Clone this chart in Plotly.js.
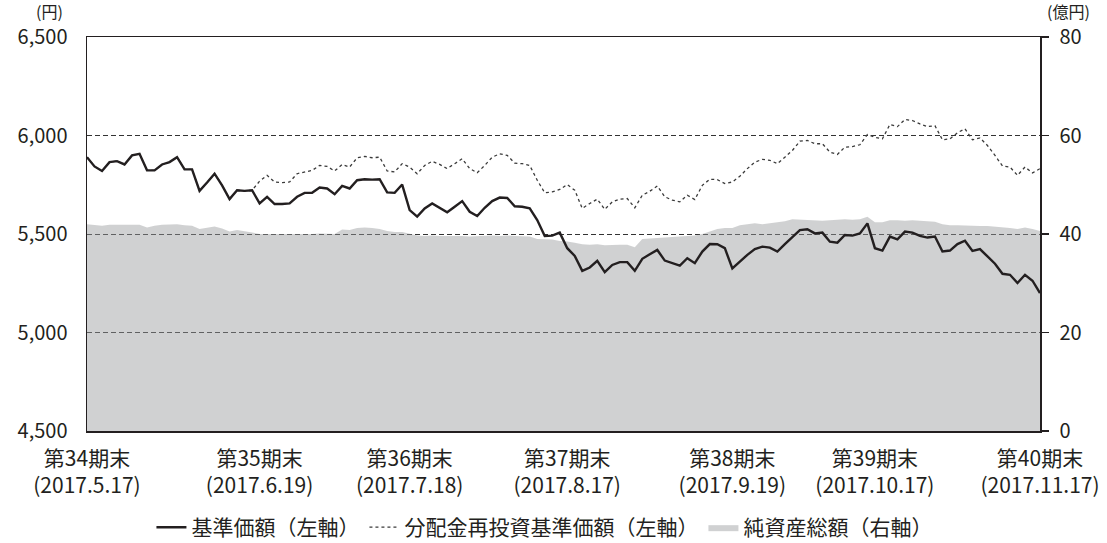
<!DOCTYPE html>
<html>
<head>
<meta charset="utf-8">
<script src="https://cdn.plot.ly/plotly-3.0.1.min.js"></script>
<style>html,body{margin:0;padding:0;background:#fff;}#chart{width:1107px;height:543px;}</style>
</head>
<body>
<div id="chart"></div>
<script>
// Business days (x categories)
const dates = [
 '2017-05-17','2017-05-18','2017-05-19','2017-05-22','2017-05-23','2017-05-24','2017-05-25','2017-05-26','2017-05-29','2017-05-30','2017-05-31',
 '2017-06-01','2017-06-02','2017-06-05','2017-06-06','2017-06-07','2017-06-08','2017-06-09','2017-06-12','2017-06-13','2017-06-14','2017-06-15','2017-06-16','2017-06-19','2017-06-20','2017-06-21','2017-06-22','2017-06-23','2017-06-26','2017-06-27','2017-06-28','2017-06-29','2017-06-30',
 '2017-07-03','2017-07-04','2017-07-05','2017-07-06','2017-07-07','2017-07-10','2017-07-11','2017-07-12','2017-07-13','2017-07-14','2017-07-18','2017-07-19','2017-07-20','2017-07-21','2017-07-24','2017-07-25','2017-07-26','2017-07-27','2017-07-28','2017-07-31',
 '2017-08-01','2017-08-02','2017-08-03','2017-08-04','2017-08-07','2017-08-08','2017-08-09','2017-08-10','2017-08-14','2017-08-15','2017-08-16','2017-08-17','2017-08-18','2017-08-21','2017-08-22','2017-08-23','2017-08-24','2017-08-25','2017-08-28','2017-08-29','2017-08-30','2017-08-31',
 '2017-09-01','2017-09-04','2017-09-05','2017-09-06','2017-09-07','2017-09-08','2017-09-11','2017-09-12','2017-09-13','2017-09-14','2017-09-15','2017-09-19','2017-09-20','2017-09-21','2017-09-22','2017-09-25','2017-09-26','2017-09-27','2017-09-28','2017-09-29',
 '2017-10-02','2017-10-03','2017-10-04','2017-10-05','2017-10-06','2017-10-10','2017-10-11','2017-10-12','2017-10-13','2017-10-16','2017-10-17','2017-10-18','2017-10-19','2017-10-20','2017-10-23','2017-10-24','2017-10-25','2017-10-26','2017-10-27','2017-10-30','2017-10-31',
 '2017-11-01','2017-11-02','2017-11-06','2017-11-07','2017-11-08','2017-11-09','2017-11-10','2017-11-13','2017-11-14','2017-11-15','2017-11-16','2017-11-17'
];

// 基準価額 (円)
const nav = [
 5890,5843,5820,5865,5870,5853,5899,5907,5823,5823,
 5853,5865,5890,5828,5828,5719,5761,5806,5747,5677,
 5722,5719,5722,5655,5689,5652,5652,5655,5689,5709,
 5709,5736,5731,5702,5744,5731,5773,5778,5776,5778,
 5711,5709,5751,5621,5588,5630,5655,5633,5610,5638,
 5667,5613,5591,5633,5667,5685,5683,5641,5638,5630,
 5571,5490,5492,5507,5428,5389,5313,5330,5364,5306,
 5343,5357,5357,5313,5374,5397,5419,5365,5352,5340,
 5377,5352,5411,5449,5448,5428,5325,5360,5394,5423,
 5436,5431,5411,5449,5483,5520,5524,5503,5507,5461,
 5456,5495,5492,5503,5554,5428,5416,5487,5473,5512,
 5507,5490,5482,5487,5411,5416,5449,5466,5414,5423,
 5386,5349,5298,5293,5251,5293,5263,5200
];

// 分配金再投資基準価額 (円)
const navReinvested = [
 5890,5843,5820,5865,5870,5853,5899,5907,5823,5823,
 5853,5865,5890,5828,5828,5719,5761,5806,5747,5677,
 5722,5719,5722,5768,5798,5764,5761,5764,5806,5815,
 5823,5848,5843,5820,5853,5840,5887,5894,5887,5890,
 5820,5815,5857,5840,5806,5848,5869,5853,5832,5857,
 5882,5832,5811,5848,5890,5907,5899,5860,5857,5848,
 5773,5709,5714,5726,5751,5722,5630,5655,5677,5625,
 5663,5677,5680,5633,5697,5717,5744,5689,5672,5663,
 5697,5675,5747,5778,5776,5756,5764,5793,5832,5865,
 5879,5874,5857,5890,5924,5971,5975,5958,5958,5916,
 5904,5941,5944,5953,6005,5991,5983,6056,6045,6081,
 6076,6059,6045,6050,5978,5983,6014,6034,5978,5988,
 5949,5899,5845,5840,5798,5840,5810,5832
];

// 純資産総額 (億円)
const netAssets = [
 42.0,41.8,41.7,41.9,41.9,41.8,41.8,41.9,41.3,41.7,
 41.9,41.9,42.0,41.8,41.7,41.0,41.3,41.5,41.1,40.5,
 40.8,40.6,40.3,40.0,40.0,39.9,39.9,39.9,40.0,39.9,
 40.0,40.1,40.1,40.0,40.9,40.8,41.2,41.3,41.2,41.0,
 40.6,40.4,40.4,40.0,39.7,39.6,39.7,39.6,39.6,39.7,
 39.6,39.5,39.6,39.7,39.7,39.6,39.7,39.6,39.6,39.5,
 39.0,39.0,38.9,38.6,38.5,38.2,37.9,37.8,37.9,37.7,
 37.8,37.8,37.8,37.3,39.0,39.1,39.2,39.3,39.5,39.6,
 39.7,39.7,40.0,40.5,41.0,41.2,41.2,41.8,42.0,42.2,
 42.0,42.2,42.5,42.6,43.0,42.9,42.8,42.8,42.7,42.8,
 42.9,43.0,42.9,43.0,43.5,42.4,42.4,42.8,42.8,42.7,
 42.8,42.7,42.6,42.5,42.0,41.8,41.8,41.7,41.6,41.6,
 41.6,41.5,41.4,41.2,41.0,41.3,41.0,40.6
];

// x tick labels (period ends)
const tickDates = ['2017-05-17','2017-06-19','2017-07-18','2017-08-17','2017-09-19','2017-10-17','2017-11-17'];
const tickPeriods = ['第34期末','第35期末','第36期末','第37期末','第38期末','第39期末','第40期末'];
const tickDateText = ['(2017.5.17)','(2017.6.19)','(2017.7.18)','(2017.8.17)','(2017.9.19)','(2017.10.17)','(2017.11.17)'];

const leftTicks = [4500,5000,5500,6000,6500];
const leftTickText = ['4,500','5,000','5,500','6,000','6,500'];
const rightTicks = [0,20,40,60,80];

const FONT = '"Noto Sans CJK JP", "Noto Sans", sans-serif';
const TXT = '#231f20';

const traces = [
  {
    x: dates, y: netAssets, yaxis: 'y', type: 'scatter', mode: 'lines',
    name: '純資産総額（右軸）', fill: 'tozeroy',
    fillcolor: 'rgba(150,153,156,0.45)', line: {width: 0, color: 'rgba(150,153,156,0.45)'},
    legendrank: 3, hoverinfo: 'skip'
  },
  {
    x: dates, y: navReinvested, yaxis: 'y2', type: 'scatter', mode: 'lines',
    name: '分配金再投資基準価額（左軸）',
    line: {color: '#3a3a3a', width: 1.3, dash: 'dot'},
    legendrank: 2
  },
  {
    x: dates, y: nav, yaxis: 'y2', type: 'scatter', mode: 'lines',
    name: '基準価額（左軸）',
    line: {color: '#231f20', width: 2.4},
    legendrank: 1
  }
];

const layout = {
  width: 1107, height: 543,
  margin: {l: 87, r: 67, t: 37, b: 112, pad: 0, autoexpand: false},
  paper_bgcolor: '#fff', plot_bgcolor: 'rgba(0,0,0,0)',
  font: {family: FONT, color: TXT, size: 19},
  showlegend: true,
  legend: {
    orientation: 'h', x: 0.48, xanchor: 'center', y: -0.245, yanchor: 'middle',
    font: {family: FONT, size: 21, color: TXT}, traceorder: 'normal',
    itemwidth: 30, bgcolor: 'rgba(0,0,0,0)'
  },
  xaxis: {
    type: 'category', range: [0, dates.length - 1],
    tickvals: tickDates,
    ticktext: tickPeriods.map((p, i) => p + '<br>' + tickDateText[i]),
    ticks: '', showgrid: false, zeroline: false,
    showline: true, linecolor: TXT, linewidth: 1.5, mirror: 'all',
    tickfont: {family: FONT, size: 21, color: TXT},
    ticklabelstandoff: 8
  },
  yaxis: {
    side: 'right', range: [0, 80], tickvals: rightTicks,
    ticks: 'outside', ticklen: 7, tickcolor: TXT, tickwidth: 1.5,
    showgrid: false, zeroline: false,
    showline: true, linecolor: TXT, linewidth: 1.5,
    tickfont: {family: FONT, size: 20, color: TXT},
    ticklabelstandoff: 7
  },
  yaxis2: {
    overlaying: 'y', side: 'left', anchor: 'x', range: [4500, 6500],
    tickvals: leftTicks, ticktext: leftTickText,
    ticks: '', showgrid: true, gridcolor: '#333333', gridwidth: 1, griddash: '5px,3px',
    zeroline: false, showline: true, linecolor: TXT, linewidth: 1.5,
    tickfont: {family: FONT, size: 20, color: TXT},
    ticklabelstandoff: 14
  },
  annotations: [
    {text: '(円)', xref: 'paper', yref: 'paper', x: -0.039, y: 1.067, xanchor: 'center', yanchor: 'middle', showarrow: false, font: {family: FONT, size: 16, color: TXT}},
    {text: '(億円)', xref: 'paper', yref: 'paper', x: 1.03, y: 1.067, xanchor: 'center', yanchor: 'middle', showarrow: false, font: {family: FONT, size: 16, color: TXT}}
  ]
};

Plotly.newPlot('chart', traces, layout, {displayModeBar: false, staticPlot: true});
</script>
</body>
</html>
